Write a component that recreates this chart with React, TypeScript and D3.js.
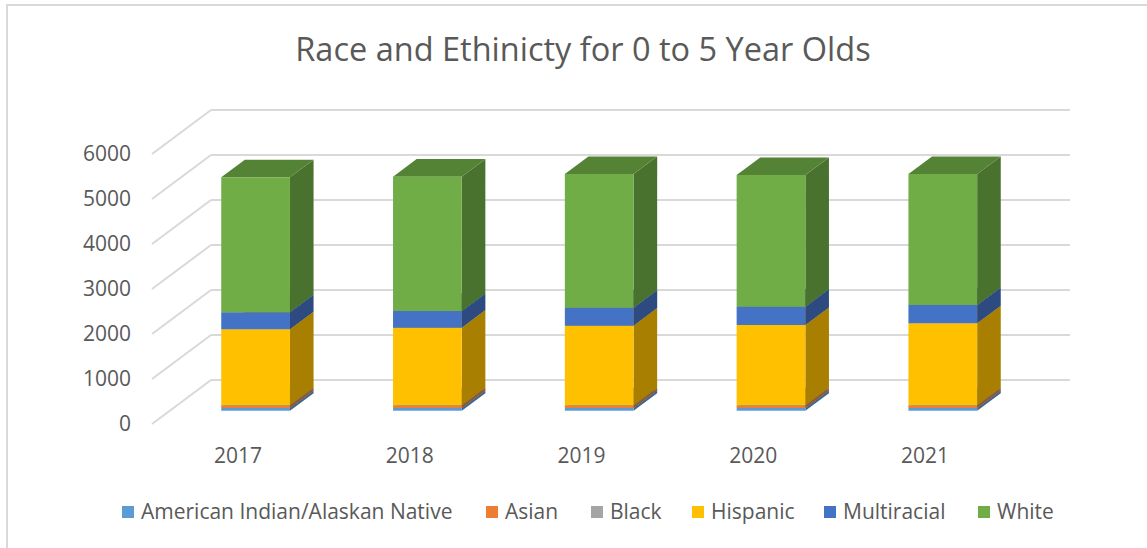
import React from 'react';
import * as d3 from 'd3';

const years = ['2017', '2018', '2019', '2020', '2021'];
const seriesNames = ['American Indian/Alaskan Native', 'Asian', 'Black', 'Hispanic', 'Multiracial', 'White'];
const seriesColors = ['#5b9bd5', '#ed7d31', '#a5a5a5', '#ffc000', '#4472c4', '#70ad47'];

const aian = [60, 60, 60, 60, 60];
const asian = [50, 50, 50, 50, 50];
const black = [15, 15, 15, 15, 15];
const hispanic = [1686, 1722, 1766, 1782, 1819];
const multiracial = [378, 371, 400, 406, 407];
const white = [3000, 2984, 2971, 2927, 2911];

const yTicks = [0, 1000, 2000, 3000, 4000, 5000, 6000];

const W = 1147;
const H = 548;
const FONT = '"Open Sans", "DejaVu Sans", sans-serif';
const TEXT = '#595959';

// oblique 3D: full depth of the plot goes this far right/up
const DEPTH_X = 59;
const DEPTH_Y = 44;

const shade = (c: string, k: number) => {
  const r = d3.rgb(c);
  return d3.rgb(r.r * k, r.g * k, r.b * k).formatHex();
};

export default function App() {
  const x = d3.scaleBand<string>().domain(years).range([152, 1011]).paddingInner(0.6).paddingOuter(0.3);
  const y = d3.scaleLinear().domain([0, 6000]).range([424, 154]);

  const table = years.map((yr, i) => ({
    year: yr,
    s0: aian[i], s1: asian[i], s2: black[i], s3: hispanic[i], s4: multiracial[i], s5: white[i],
  }));
  const stack = d3.stack<any>().keys(['s0', 's1', 's2', 's3', 's4', 's5'])(table);

  const f0 = 0.3;
  const f1 = 0.7;
  const pt = (px: number, py: number, f: number) => `${px + f * DEPTH_X},${py - f * DEPTH_Y}`;

  const bars: React.ReactNode[] = [];
  years.forEach((yr, i) => {
    const xl = x(yr)!;
    const xr = xl + x.bandwidth();
    stack.forEach((layer, k) => {
      const v0 = layer[i][0];
      const v1 = layer[i][1];
      const yb = y(v0);
      const yt = y(v1);
      const col = seriesColors[k];
      const side = [pt(xr, yb, f0), pt(xr, yb, f1), pt(xr, yt, f1), pt(xr, yt, f0)].join(' ');
      const top = [pt(xl, yt, f0), pt(xl, yt, f1), pt(xr, yt, f1), pt(xr, yt, f0)].join(' ');
      const front = [pt(xl, yb, f0), pt(xr, yb, f0), pt(xr, yt, f0), pt(xl, yt, f0)].join(' ');
      bars.push(
        <g key={`${yr}-${k}`}>
          <polygon points={side} fill={shade(col, 0.66)} />
          <polygon points={top} fill={shade(col, 0.76)} />
          <polygon points={front} fill={col} />
        </g>
      );
    });
  });

  const [x0, x1] = x.range();

  // legend layout
  const legendX = [122, 486, 591, 692, 824, 978];

  return (
    <svg width={W} height={H} style={{ position: 'absolute', left: 0, top: 0 }}>
      <rect x={0} y={0} width={W} height={H} fill="#fff" />
      <rect x={7} y={5} width={W + 20} height={H + 20} fill="#fff" stroke="#d9d9d9" strokeWidth={2} />
      <text x={583} y={61} textAnchor="middle" fontFamily={FONT} fontSize={32.5} fill={TEXT}>
        Race and Ethinicty for 0 to 5 Year Olds
      </text>

      {/* gridlines: side wall diagonals + back wall */}
      {yTicks.map((t) => (
        <g key={t} stroke="#d9d9d9" strokeWidth={2} fill="none">
          <line x1={x0} y1={y(t)} x2={x0 + DEPTH_X} y2={y(t) - DEPTH_Y} />
          <line x1={x0 + DEPTH_X} y1={y(t) - DEPTH_Y} x2={x1 + DEPTH_X} y2={y(t) - DEPTH_Y} />
        </g>
      ))}

      {bars}

      {yTicks.map((t) => (
        <text key={t} x={131} y={y(t)} dy="0.35em" textAnchor="end" fontFamily={FONT} fontSize={21} fill={TEXT}>
          {t}
        </text>
      ))}

      {years.map((yr) => (
        <text key={yr} x={x(yr)! + x.bandwidth() / 2} y={463} textAnchor="middle" fontFamily={FONT} fontSize={21} fill={TEXT}>
          {yr}
        </text>
      ))}

      {seriesNames.map((name, k) => (
        <g key={name} transform={`translate(${legendX[k]},512)`}>
          <rect x={0} y={-6} width={12} height={12} fill={seriesColors[k]} />
          <text x={19} y={0} dy="0.35em" fontFamily={FONT} fontSize={21} fill={TEXT}>
            {name}
          </text>
        </g>
      ))}
    </svg>
  );
}
